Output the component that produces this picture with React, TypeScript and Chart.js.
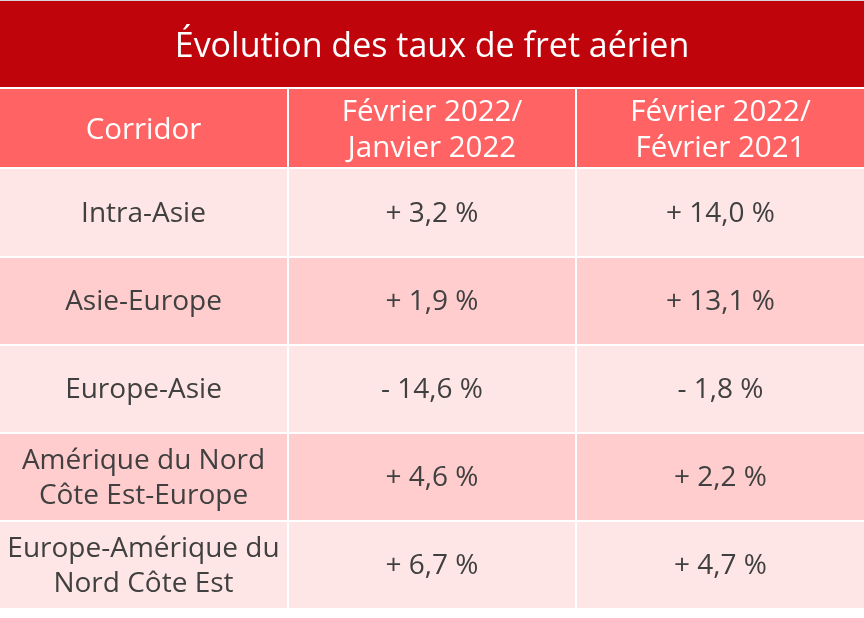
import React, { useEffect, useRef } from 'react';
import { Chart, registerables } from 'chart.js';

Chart.register(...registerables);

// ---------- data ----------
const title = 'Évolution des taux de fret aérien';
const columnHeaders = [['Corridor'], ['Février 2022/', 'Janvier 2022'], ['Février 2022/', 'Février 2021']];
const corridors = [
  ['Intra-Asie'],
  ['Asie-Europe'],
  ['Europe-Asie'],
  ['Amérique du Nord', 'Côte Est-Europe'],
  ['Europe-Amérique du', 'Nord Côte Est'],
];
const changeVsPrevMonth = [3.2, 1.9, -14.6, 4.6, 6.7];
const changeVsPrevYear = [14.0, 13.1, -1.8, 2.2, 4.7];

const fmt = (v: number) => (v >= 0 ? '+ ' : '- ') + Math.abs(v).toFixed(1).replace('.', ',') + ' %';

// ---------- layout / styles ----------
const W = 864;
const H = 618;
const ROW_SIZES = [86, 78, 87, 86, 86, 86, 86]; // title, header, 5 body rows
const GAP = 2;
const FONT = "'Open Sans', 'Noto Sans', sans-serif";
const C_TITLE = '#C0040B';
const C_HEAD = '#FF6363';
const C_ODD = '#FFE6E6';
const C_EVEN = '#FFCDCD';
const C_TEXT = '#404040';

const rowEdges: number[] = [];
{
  let y = 1;
  ROW_SIZES.forEach((s) => {
    rowEdges.push(y, y + s);
    y += s + GAP;
  });
}

const cells = corridors.map((c, r) => [c, [fmt(changeVsPrevMonth[r])], [fmt(changeVsPrevYear[r])]]);

const tablePlugin = {
  id: 'tablePlugin',
  beforeDatasetsDraw(chart: any) {
    const { ctx, scales } = chart;
    const xs = scales.x;
    const ys = scales.y;
    const colX = (c: number) => xs.getPixelForValue(c);
    const rowTop = (r: number) => ys.getPixelForValue(rowEdges[r * 2]);
    const rowBot = (r: number) => ys.getPixelForValue(rowEdges[r * 2 + 1]);

    const drawLines = (lines: string[], cx: number, cy: number, size: number, lh: number, color: string) => {
      ctx.save();
      ctx.fillStyle = color;
      ctx.font = `${size}px ${FONT}`;
      ctx.textAlign = 'center';
      ctx.textBaseline = 'middle';
      const start = cy - ((lines.length - 1) * lh) / 2;
      lines.forEach((l, i) => ctx.fillText(l, cx, start + i * lh));
      ctx.restore();
    };

    ctx.save();
    // top hairline
    ctx.fillStyle = '#d4d4d4';
    ctx.fillRect(0, 0, W, 1);
    // title
    const t0 = rowTop(0), t1 = rowBot(0);
    ctx.fillStyle = C_TITLE;
    ctx.fillRect(colX(0), t0, colX(3) - colX(0), t1 - t0);
    drawLines([title], (colX(0) + colX(3)) / 2, (t0 + t1) / 2 + 3, 34, 40, '#ffffff');

    const colLeft = (c: number) => colX(c) + (c === 0 ? 0 : GAP / 2);
    const colRight = (c: number) => colX(c + 1) - (c === 2 ? 0 : GAP / 2);

    // header
    for (let c = 0; c < 3; c++) {
      const y0 = rowTop(1), y1 = rowBot(1);
      const x0 = colLeft(c), x1 = colRight(c);
      ctx.fillStyle = C_HEAD;
      ctx.fillRect(x0, y0, x1 - x0, y1 - y0);
      drawLines(columnHeaders[c], (x0 + x1) / 2, (y0 + y1) / 2 + 3, 29.5, 36, '#ffffff');
    }
    // body
    cells.forEach((row, r) => {
      const y0 = rowTop(r + 2), y1 = rowBot(r + 2);
      row.forEach((lines, c) => {
        const x0 = colLeft(c), x1 = colRight(c);
        ctx.fillStyle = r % 2 === 0 ? C_ODD : C_EVEN;
        ctx.fillRect(x0, y0, x1 - x0, y1 - y0);
        drawLines(lines as string[], (x0 + x1) / 2, (y0 + y1) / 2 + 1.5, 28, 35, C_TEXT);
      });
    });
    ctx.restore();
  },
};

export default function App() {
  const ref = useRef<HTMLCanvasElement | null>(null);
  useEffect(() => {
    if (!ref.current) return;
    const points = cells.flatMap((row, r) =>
      row.map((_, c) => ({ x: c + 0.5, y: (rowEdges[(r + 2) * 2] + rowEdges[(r + 2) * 2 + 1]) / 2 }))
    );
    const chart = new Chart(ref.current, {
      type: 'scatter',
      data: { datasets: [{ data: points, pointRadius: 0, pointHoverRadius: 0 }] },
      options: {
        animation: false,
        responsive: false,
        maintainAspectRatio: false,
        layout: { padding: 0 },
        events: [],
        plugins: { legend: { display: false }, tooltip: { enabled: false } },
        scales: {
          x: { type: 'linear', min: 0, max: 3, display: false },
          y: { type: 'linear', min: 0, max: H, reverse: true, display: false },
        },
      },
      plugins: [tablePlugin],
    });
    return () => chart.destroy();
  }, []);
  return (
    <div style={{ position: 'fixed', left: 0, top: 0, width: W, height: H, background: '#ffffff' }}>
      <canvas ref={ref} width={W} height={H} style={{ width: W, height: H, display: 'block' }} />
    </div>
  );
}
